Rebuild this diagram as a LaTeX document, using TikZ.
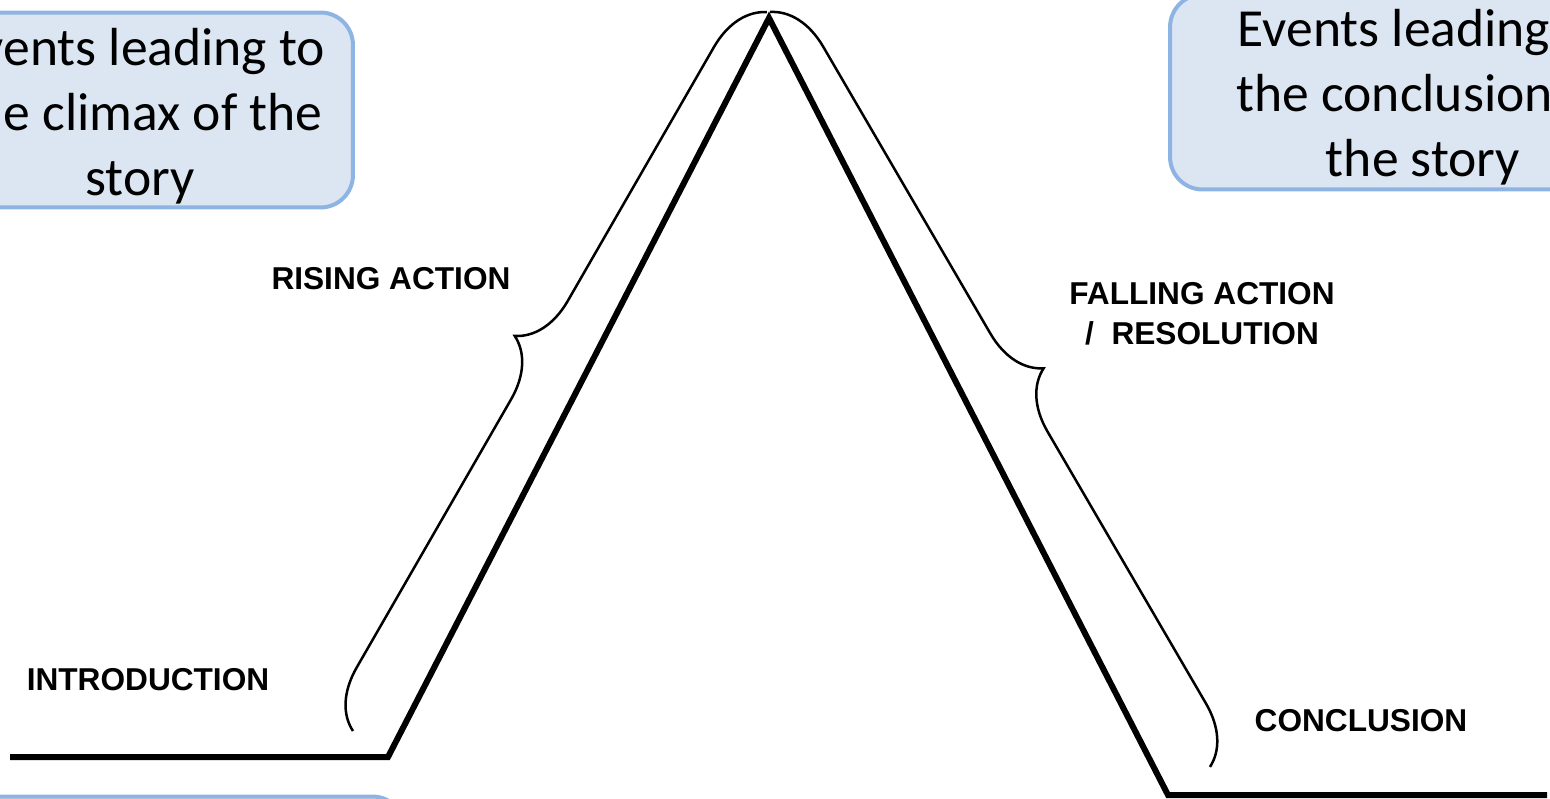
\documentclass[tikz,border=0pt]{standalone}
\usepackage{fontspec}
\setmainfont{Carlito}
\newfontfamily\arialfont{Liberation Sans}
\usetikzlibrary{positioning, decorations.pathreplacing}
\definecolor{calloutfill}{RGB}{220,230,242}
\definecolor{calloutedge}{RGB}{141,180,227}

\begin{document}
\begin{tikzpicture}[
    x=0.02cm,
    y=-0.02cm,
    callout/.style={
        draw=calloutedge,
        fill=calloutfill,
        line width=0.08cm,
        rounded corners=0.65cm,
        minimum height=3.9cm,
        align=center,
        font=\fontsize{30.5}{37}\selectfont
    },
    stagelabel/.style={
        font=\arialfont\bfseries\fontsize{18}{23}\selectfont,
        align=center
    },
    plotline/.style={line width=0.12cm},
    bracket/.style={
        decorate,
        decoration={brace, amplitude=1.14cm, aspect=0.51},
        line width=0.05cm
    }
]
% ============================================================
% FRAME -- page size of the reference, everything outside cut off
% ============================================================
\useasboundingbox (0,0) rectangle (1550,798);
\clip (0,0) rectangle (1550,798);
% ============================================================
% CALLOUTS -- partly outside the frame
% ============================================================
\node[callout, minimum width=8.52cm] (climaxnote) at (140,110) {};
\node[align=center, font=\fontsize{30.5}{37}\selectfont] (climaxtext) at (140,116) {
    Events leading to\\
    the climax of the\\
    story
};
\node[callout, minimum width=10.12cm] (conclnote) at (1423,92) {};
\node[align=center, font=\fontsize{30.5}{37}\selectfont] (concltext) at (1423,97) {
    Events leading to\\
    the conclusion of\\
    the story
};
\node[callout, minimum width=10cm] (extranote) at (155,894) {};
% ============================================================
% PLOT LINE -- intro, rise, climax, fall, conclusion
% ============================================================
\coordinate (start)    at (10,757);
\coordinate (risebase) at (388,757);
\coordinate (climax)   at (769,18);
\coordinate (fallbase) at (1168,795);
\coordinate (finish)   at (1547,795);
\draw[plotline] (start) -- (risebase) -- (climax) -- (fallbase) -- (finish);
% ============================================================
% BRACES along both slopes
% ============================================================
\coordinate (risebot) at (353,731);
\coordinate (risetop) at (767,12);
\coordinate (falltop) at (770,12);
\coordinate (fallbot) at (1210,767);
\draw[bracket] (risebot) -- (risetop);
\draw[bracket] (falltop) -- (fallbot);
% ============================================================
% STAGE LABELS
% ============================================================
\node[stagelabel] (intro)   at (148,680)  {INTRODUCTION};
\node[stagelabel] (rising)  at (391,279)  {RISING ACTION};
\node[stagelabel] (falling) at (1202,314) {FALLING ACTION\\ /\ \ RESOLUTION};
\node[stagelabel] (concl)   at (1361,721) {CONCLUSION};
\end{tikzpicture}
\end{document}
